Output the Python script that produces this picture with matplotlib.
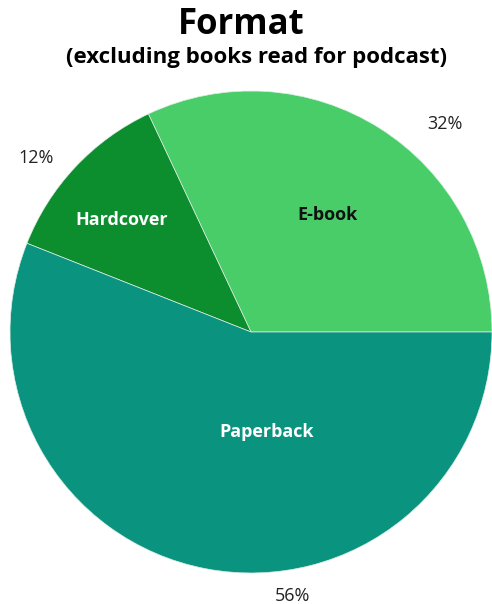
import numpy as np
import matplotlib
matplotlib.use("Agg")
from matplotlib import pyplot as plt

# formats des livres lus (hors podcast)
formats = ["E-book", "Hardcover", "Paperback"]
parts = [32, 12, 56]
couleurs = ["#48CD69", "#0C8D2E", "#0A9480"]
couleurs_texte = ["#111111", "white", "white"]

# placement des noms dans les parts (angle en degrés, fraction du rayon)
pos_noms = [(57.0, 0.58), (139.0, 0.71), (279.0, 0.42)]
# placement des pourcentages autour du disque
pos_pourcent = [(46.9, 1.18), (141.0, 1.15), (279.0, 1.11)]

plt.rcParams["font.family"] = ["Open Sans", "DejaVu Sans"]

fig = plt.figure(figsize=(4.92, 6.04), dpi=100)
ax = fig.add_axes([10 / 492, 31 / 604, 482 / 492, 482 / 604])

ax.pie(parts, colors=couleurs, startangle=0, counterclock=True,
       wedgeprops={"edgecolor": "#dfeee4", "linewidth": 0.5})

for nom, (a, r), c in zip(formats, pos_noms, couleurs_texte):
    a = np.radians(a)
    ax.text(r * np.cos(a), r * np.sin(a), nom, color=c,
            ha="center", va="center", fontsize=13, fontweight="bold")

for v, (a, r) in zip(parts, pos_pourcent):
    a = np.radians(a)
    ax.text(r * np.cos(a), r * np.sin(a), f"{v}%", color="#222222",
            ha="center", va="center", fontsize=13)

ax.set_xlim(-1, 1)
ax.set_ylim(-1, 1)
ax.set_aspect("equal")
ax.axis("off")

fig.text(241 / 492, 1 - 25 / 604, "Format", ha="center", va="center",
         fontsize=25, fontweight="bold")
fig.text(257 / 492, 1 - 57 / 604, "(excluding books read for podcast)", ha="center",
         va="center", fontsize=16, fontweight="bold")

fig.savefig("out.png", dpi=100)
